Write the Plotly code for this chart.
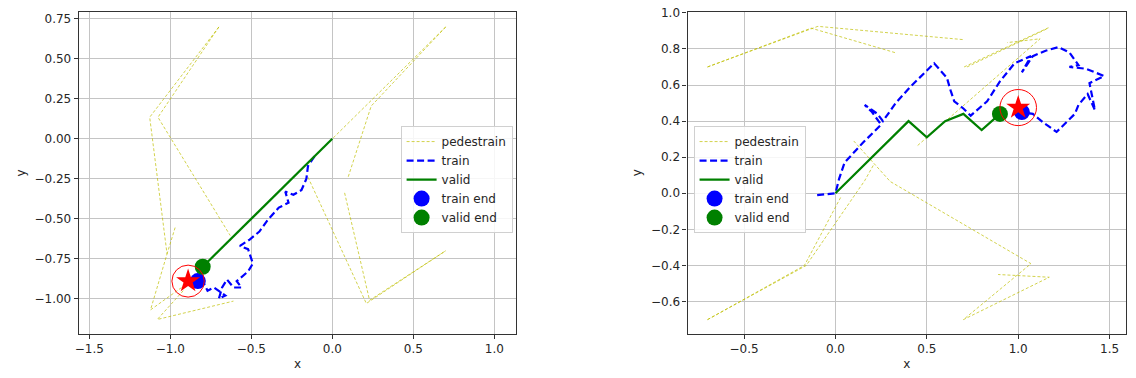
import plotly.graph_objects as go

# ---------------- data: left panel ----------------
ped_left = [
    ([-0.70, -1.127, -1.02, -1.122, -0.93], [0.70, 0.135, -0.72, -1.07, -0.93]),
    ([-0.70, -1.076, -0.63], [0.70, 0.135, -0.605]),
    ([-0.97, -1.02], [-0.555, -0.72]),
    ([-0.92, -1.08, -0.61], [-0.95, -1.13, -1.015]),
    ([0.70, 0.0], [0.70, 0.0]),
    ([0.70, 0.24, 0.096], [0.70, 0.205, -0.245]),
    ([-0.15, 0.21, 0.70], [-0.24, -1.03, -0.70]),
    ([0.076, 0.23, 0.70], [-0.338, -1.01, -0.70]),
]
train_left_x = [-0.11, -0.15, -0.16, -0.19, -0.24, -0.29, -0.27, -0.33, -0.40, -0.45, -0.51,
                -0.57, -0.52, -0.49, -0.52, -0.59, -0.56, -0.61, -0.65, -0.68, -0.70,
                -0.66, -0.73, -0.77, -0.80, -0.83]
train_left_y = [-0.11, -0.17, -0.25, -0.32, -0.35, -0.33, -0.40, -0.43, -0.51, -0.58, -0.63,
                -0.67, -0.69, -0.78, -0.83, -0.89, -0.93, -0.93, -0.88, -0.93, -1.00,
                -0.98, -0.93, -0.95, -0.89, -0.89]
valid_left_x = [0.0, -0.1, -0.2, -0.3, -0.4, -0.5, -0.6, -0.7, -0.8]
valid_left_y = [0.0, -0.1, -0.2, -0.3, -0.4, -0.5, -0.6, -0.7, -0.8]
goal_left = (-0.89, -0.89)

# ---------------- data: right panel ----------------
ped_right = [
    ([-0.70, -0.133, 0.331], [0.70, 0.915, 0.778]),
    ([-0.70, -0.096, 0.704], [0.70, 0.925, 0.851]),
    ([0.704, 1.171], [0.70, 0.92]),
    ([0.72, 1.165], [0.70, 0.915]),
    ([0.45, 1.12, 0.94], [0.265, 0.856, 0.835]),
    ([-0.70, -0.17, 0.03], [-0.70, -0.40, -0.02]),
    ([-0.70, -0.16, 0.16, 0.21], [-0.70, -0.40, 0.07, 0.16]),
    ([0.10, 0.30, 1.07, 0.70, 1.17, 0.89], [0.29, 0.065, -0.39, -0.70, -0.465, -0.45]),
]
train_right_x = [-0.10, 0.00, 0.02, 0.05, 0.15, 0.25, 0.20, 0.16, 0.23, 0.26, 0.33, 0.41, 0.54,
                 0.61, 0.63, 0.65, 0.70, 0.74, 0.83, 0.90, 0.98, 1.07, 1.02, 1.08, 1.15, 1.22,
                 1.28, 1.33, 1.28, 1.37, 1.47, 1.39, 1.42, 1.38, 1.33, 1.31, 1.21, 1.14, 1.08, 1.02]
train_right_y = [-0.01, 0.00, 0.08, 0.17, 0.28, 0.38, 0.45, 0.49, 0.44, 0.40, 0.50, 0.59, 0.72,
                 0.64, 0.57, 0.51, 0.47, 0.43, 0.51, 0.62, 0.72, 0.76, 0.67, 0.76, 0.79, 0.81,
                 0.78, 0.71, 0.70, 0.69, 0.65, 0.61, 0.46, 0.55, 0.49, 0.44, 0.34, 0.39, 0.44, 0.45]
valid_right_x = [0.0, 0.1, 0.2, 0.3, 0.4, 0.5, 0.6, 0.7, 0.8, 0.9]
valid_right_y = [0.0, 0.1, 0.2, 0.3, 0.4, 0.31, 0.40, 0.44, 0.35, 0.44]
goal_right = (1.0, 0.475)

# ticks
xt_left = [-1.5, -1.0, -0.5, 0.0, 0.5, 1.0]
yt_left = [0.75, 0.50, 0.25, 0.00, -0.25, -0.50, -0.75, -1.00]
xt_right = [-0.5, 0.0, 0.5, 1.0, 1.5]
yt_right = [1.0, 0.8, 0.6, 0.4, 0.2, 0.0, -0.2, -0.4, -0.6]
goal_radius = 0.1


def fmt(v, d):
    s = f"{abs(v):.{d}f}"
    return ("\u2212" + s) if v < 0 else s


PED_COLOR = "rgba(191,191,0,0.7)"
fig = go.Figure()


def add_panel(ax, peds, tx, ty, vx, vy, goal, legend):
    xa = "x" if ax == 1 else "x2"
    ya = "y" if ax == 1 else "y2"
    px, py = [], []
    for xs, ys in peds:
        px += list(xs) + [None]
        py += list(ys) + [None]
    fig.add_trace(go.Scatter(x=px, y=py, mode="lines", name="pedestrain", xaxis=xa, yaxis=ya,
                             line=dict(color=PED_COLOR, width=1, dash="3px,2px"),
                             legend=legend, connectgaps=False))
    fig.add_trace(go.Scatter(x=tx, y=ty, mode="lines", name="train", xaxis=xa, yaxis=ya,
                             line=dict(color="#0000ff", width=2.2, dash="7px,3.5px"), legend=legend))
    fig.add_trace(go.Scatter(x=vx, y=vy, mode="lines", name="valid", xaxis=xa, yaxis=ya,
                             line=dict(color="#008000", width=2.2), legend=legend))
    fig.add_trace(go.Scatter(x=[tx[-1]], y=[ty[-1]], mode="markers", name="train end",
                             xaxis=xa, yaxis=ya, legend=legend,
                             marker=dict(color="#0000ff", size=16, line=dict(width=0))))
    fig.add_trace(go.Scatter(x=[vx[-1]], y=[vy[-1]], mode="markers", name="valid end",
                             xaxis=xa, yaxis=ya, legend=legend,
                             marker=dict(color="#008000", size=16, line=dict(width=0))))
    fig.add_trace(go.Scatter(x=[goal[0]], y=[goal[1]], mode="markers", name="goal",
                             xaxis=xa, yaxis=ya, showlegend=False,
                             marker=dict(color="#ff0000", size=18, symbol="star", line=dict(width=0))))
    fig.add_shape(type="circle", xref=xa, yref=ya,
                  x0=goal[0] - goal_radius, x1=goal[0] + goal_radius,
                  y0=goal[1] - goal_radius, y1=goal[1] + goal_radius,
                  line=dict(color="#ff0000", width=1))


add_panel(1, ped_left, train_left_x, train_left_y, valid_left_x, valid_left_y, goal_left, "legend")
add_panel(2, ped_right, train_right_x, train_right_y, valid_right_x, valid_right_y, goal_right, "legend2")

FONT = dict(family="DejaVu Sans", size=12, color="#262626")
axis_common = dict(showgrid=True, gridcolor="#c4c4c4", gridwidth=1.2, zeroline=False,
                   showline=True, linecolor="#333333", linewidth=1.2, mirror=True,
                   ticks="outside", ticklen=4, tickcolor="#333333", tickfont=FONT)

legend_common = dict(font=dict(family="DejaVu Sans", size=12, color="#262626"),
                     bgcolor="rgba(255,255,255,0.85)", bordercolor="#d0d0d0", borderwidth=1,
                     xanchor="left", yanchor="top", itemsizing="trace", tracegroupgap=0)

fig.update_layout(
    width=1136, height=378, margin=dict(l=0, r=0, t=0, b=0),
    paper_bgcolor="white", plot_bgcolor="white", font=FONT,
    xaxis=dict(domain=[75 / 1136, 514 / 1136], range=[-1.565, 1.135], anchor="y",
               tickvals=xt_left, ticktext=[fmt(v, 1) for v in xt_left],
               title=dict(text="x", font=FONT, standoff=4), **axis_common),
    yaxis=dict(domain=[1 - 333 / 378, 1 - 6 / 378], range=[-1.219, 0.794], anchor="x",
               tickvals=yt_left, ticktext=[fmt(v, 2) for v in yt_left],
               title=dict(text="y", font=FONT, standoff=6), **axis_common),
    xaxis2=dict(domain=[686 / 1136, 1126 / 1136], range=[-0.809, 1.590], anchor="y2",
                tickvals=xt_right, ticktext=[fmt(v, 1) for v in xt_right],
                title=dict(text="x", font=FONT, standoff=4), **axis_common),
    yaxis2=dict(domain=[1 - 333 / 378, 1 - 6 / 378], range=[-0.778, 1.005], anchor="x2",
                tickvals=yt_right, ticktext=[fmt(v, 1) for v in yt_right],
                title=dict(text="y", font=FONT, standoff=6), **axis_common),
    legend=dict(x=398 / 1136, y=1 - 122 / 378, **legend_common),
    legend2=dict(x=692 / 1136, y=1 - 122 / 378, **legend_common),
)

fig.write_html("out.html", config={"displayModeBar": False},
               post_script="document.body.style.margin='0';")
